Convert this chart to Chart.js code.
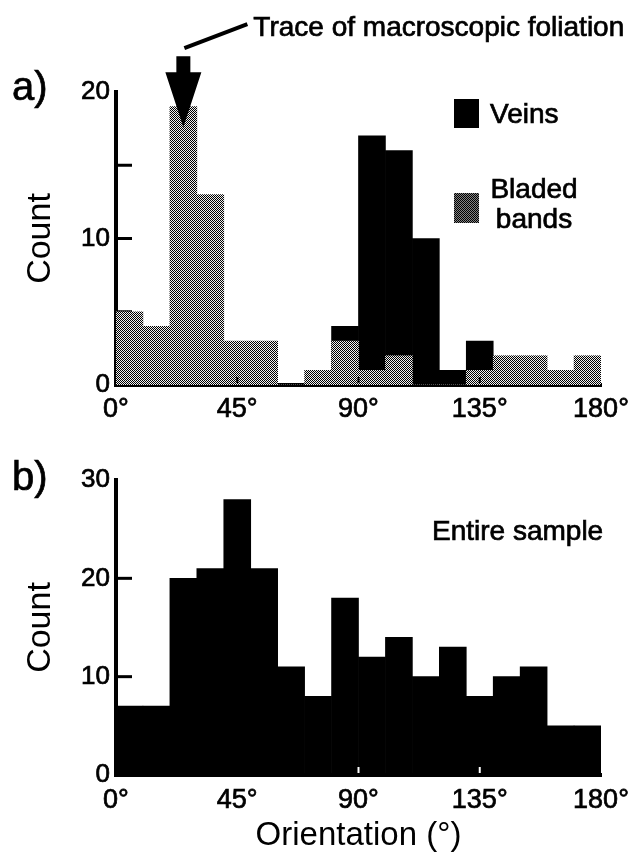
<!DOCTYPE html>
<html>
<head>
<meta charset="utf-8">
<script src="https://cdn.jsdelivr.net/npm/chart.js@4.4.1/dist/chart.umd.min.js"></script>
<style>
  html, body { margin: 0; padding: 0; background: #fff; }
  #panelA { position: absolute; left: 0; top: 0; width: 644px; height: 430px; }
  #panelB { position: absolute; left: 0; top: 430px; width: 644px; height: 422px; }
</style>
</head>
<body>
<div id="panelA"><canvas id="chartA"></canvas></div>
<div id="panelB"><canvas id="chartB"></canvas></div>
<script>
// 10 degree bins, value = bin centre
const binCenters = [5, 15, 25, 35, 45, 55, 65, 75, 85, 95, 105, 115, 125, 135, 145, 155, 165, 175];
const bladedCounts = [5, 4, 19, 13, 3, 3, 0, 1, 3, 1, 2, 0, 0, 1, 2, 2, 1, 2];
const veinCounts   = [0, 0, 0, 0, 0, 0, 0, 0, 4, 17, 16, 10, 1, 3, 0, 0, 0, 0];
const sampleCounts = [7, 7, 20, 21, 28, 21, 11, 8, 18, 12, 14, 10, 13, 8, 10, 11, 5, 5];
const degreeTicks = [0, 45, 90, 135, 180];
const foliationAngle = 25;
const arrowTipCount = 17.6;

const FONT = '"Liberation Sans", Arial, Helvetica, sans-serif';
Chart.defaults.font.family = FONT;
Chart.defaults.color = '#000';

// halftone grey like the printed figure
function halftone() {
  const c = document.createElement('canvas');
  c.width = 2; c.height = 2;
  const g = c.getContext('2d');
  g.fillStyle = '#f0f0f0'; g.fillRect(0, 0, 2, 2);
  g.fillStyle = '#000'; g.fillRect(0, 0, 1, 1); g.fillRect(1, 1, 1, 1);
  return g.createPattern(c, 'repeat');
}

// scanned print looks a bit heavier than plain canvas text
function heavyText(ctx, text, x, y) {
  ctx.fillText(text, x, y);
  ctx.strokeText(text, x, y);
}

// ticks pointing into the plot, like the original
const innerTicks = {
  id: 'innerTicks',
  beforeDatasetsDraw(chart, args, opts) {
    const {ctx, chartArea, scales: {y}} = chart;
    ctx.save();
    ctx.strokeStyle = '#000';
    ctx.lineWidth = 3;
    y.ticks.forEach(t => {
      if (t.value === y.min || t.value === y.max) return;
      const py = y.getPixelForValue(t.value);
      ctx.beginPath();
      ctx.moveTo(chartArea.left, py);
      ctx.lineTo(chartArea.left + opts.yLength, py);
      ctx.stroke();
    });
    ctx.restore();
  },
  afterDatasetsDraw(chart, args, opts) {
    const {ctx, chartArea, scales: {x}} = chart;
    ctx.save();
    ctx.strokeStyle = opts.xColor;
    ctx.lineWidth = 2;
    opts.xAt.forEach(v => {
      const px = x.getPixelForValue(v);
      ctx.beginPath();
      ctx.moveTo(px, chartArea.bottom - 2);
      ctx.lineTo(px, chartArea.bottom - 2 - opts.xLength);
      ctx.stroke();
    });
    ctx.restore();
  }
};

// panel letter, arrow note, legend and captions
const panelText = {
  id: 'panelText',
  afterDraw(chart, args, opts) {
    const {ctx, chartArea, scales: {x, y}} = chart;
    ctx.save();
    ctx.fillStyle = '#000';
    ctx.strokeStyle = '#000';
    ctx.lineWidth = 0.7;
    ctx.textBaseline = 'alphabetic';
    ctx.font = '40px ' + FONT;
    heavyText(ctx, opts.letter, 12, chartArea.top + opts.letterDy);

    if (opts.arrow) {
      const ax = x.getPixelForValue(foliationAngle);
      const tip = y.getPixelForValue(arrowTipCount);
      ctx.beginPath();
      ctx.moveTo(ax, tip);
      ctx.lineTo(ax - 18, tip - 55);
      ctx.lineTo(ax - 7, tip - 55);
      ctx.lineTo(ax - 7, tip - 71);
      ctx.lineTo(ax + 7, tip - 71);
      ctx.lineTo(ax + 7, tip - 55);
      ctx.lineTo(ax + 18, tip - 55);
      ctx.closePath();
      ctx.fill();
      ctx.save();
      ctx.lineWidth = 4;
      ctx.beginPath();
      ctx.moveTo(ax + 1, tip - 79);
      ctx.lineTo(ax + 64, tip - 103);
      ctx.stroke();
      ctx.restore();
      ctx.font = '28px ' + FONT;
      heavyText(ctx, 'Trace of macroscopic foliation', ax + 70, tip - 91);
    }

    if (opts.legend) {
      ctx.font = '28px ' + FONT;
      const ds = chart.data.datasets;
      const veins = ds.find(d => d.label === 'Veins');
      const bladed = ds.find(d => d.label === 'Bladed bands');
      ctx.fillStyle = veins.backgroundColor;
      ctx.fillRect(454, 99, 25, 29);
      ctx.fillStyle = bladed.backgroundColor;
      ctx.fillRect(454, 193, 25, 30);
      ctx.fillStyle = 'rgba(0,0,0,0.45)';
      ctx.fillRect(454, 193, 25, 30);
      ctx.fillStyle = '#000';
      ctx.textAlign = 'left';
      heavyText(ctx, veins.label, 490, 123);
      ctx.textAlign = 'center';
      const words = bladed.label.split(' ');
      heavyText(ctx, words[0], 534, 198);
      heavyText(ctx, words[1], 534, 228);
    }

    if (opts.caption) {
      ctx.font = '28px ' + FONT;
      ctx.textAlign = 'left';
      heavyText(ctx, opts.caption, 432, chartArea.top + 60);
    }
    ctx.restore();
  }
};

function xScale(height, pad, title) {
  return {
    type: 'linear', min: 0, max: 180, z: 1, offset: false,
    afterBuildTicks: s => { s.ticks = degreeTicks.map(v => ({value: v})); },
    afterFit: s => { s.height = height; },
    grid: {display: false, drawTicks: false, offset: false},
    border: {color: '#000', width: 4},
    ticks: {callback: v => v + '°', padding: pad, maxRotation: 0, autoSkip: false,
      font: {size: 27}, textStrokeColor: '#000', textStrokeWidth: 0.7},
    title: title ? {display: true, text: title, font: {size: 33, lineHeight: 1}, padding: 0} : {display: false}
  };
}

function yScale(max, step, labelEvery) {
  return {
    min: 0, max: max,
    afterFit: s => { s.width = 116; },
    grid: {display: false, drawTicks: false},
    border: {color: '#000', width: 4},
    ticks: {stepSize: step, padding: 6, font: {size: 26},
      textStrokeColor: '#000', textStrokeWidth: 0.7,
      callback: v => (v % labelEvery === 0 ? v : '')},
    title: {display: true, text: 'Count', font: {size: 34}, padding: {top: 20, bottom: 0}}
  };
}

const grey = halftone();
const barStyle = {barPercentage: 1, categoryPercentage: 1, borderWidth: 0, grouped: false};

new Chart(document.getElementById('chartA'), {
  type: 'bar',
  data: {
    labels: binCenters,
    datasets: [
      Object.assign({label: 'Veins', data: veinCounts, backgroundColor: '#000', order: 2}, barStyle),
      Object.assign({label: 'Bladed bands', data: bladedCounts, backgroundColor: grey, order: 1}, barStyle)
    ]
  },
  options: {
    responsive: true, maintainAspectRatio: false, animation: false,
    layout: {padding: {top: 92, right: 43, left: 0, bottom: 0}},
    scales: {x: xScale(45, 8), y: yScale(20, 5, 10)},
    plugins: {
      legend: {display: false}, tooltip: {enabled: false},
      innerTicks: {yLength: 16, xAt: [45, 90, 135], xLength: 6, xColor: '#000'},
      panelText: {letter: 'a)', letterDy: 8, arrow: true, legend: true}
    }
  },
  plugins: [innerTicks, panelText]
});

new Chart(document.getElementById('chartB'), {
  type: 'bar',
  data: {
    labels: binCenters,
    datasets: [
      Object.assign({label: 'Entire sample', data: sampleCounts, backgroundColor: '#000'}, barStyle)
    ]
  },
  options: {
    responsive: true, maintainAspectRatio: false, animation: false,
    layout: {padding: {top: 50, right: 43, left: 0, bottom: 0}},
    scales: {x: xScale(77, 9, 'Orientation (°)'), y: yScale(30, 10, 10)},
    plugins: {
      legend: {display: false}, tooltip: {enabled: false},
      innerTicks: {yLength: 16, xAt: [90, 135], xLength: 6, xColor: '#fff'},
      panelText: {letter: 'b)', letterDy: 10, caption: 'Entire sample'}
    }
  },
  plugins: [innerTicks, panelText]
});
</script>
</body>
</html>
